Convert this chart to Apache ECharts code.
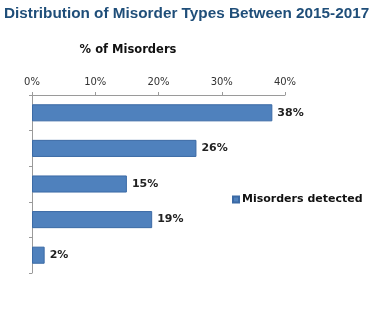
<!DOCTYPE html>
<html><head><meta charset="utf-8">
<script src="https://cdn.jsdelivr.net/npm/echarts@6/dist/echarts.min.js"></script>
<style>html,body{margin:0;padding:0;background:#fff}#c{width:375px;height:325px}</style>
</head><body><div id="c"></div>
<script>
const categories = ['Type A', 'Type B', 'Type C', 'Type D', 'Type E'];
const misordersDetected = [38, 26, 15, 19, 2];
const xTicks = [0, 10, 20, 30, 40];

const chart = echarts.init(document.getElementById('c'), null, {renderer: 'canvas'});
chart.setOption({
  animation: false,
  backgroundColor: '#ffffff',
  title: [{
    text: 'Distribution of Misorder Types Between 2015-2017',
    left: 4, top: 6, padding: 0,
    textStyle: {fontFamily: 'Liberation Sans', fontWeight: 'bold', fontSize: 15.3, color: '#1f4e79'}
  }, {
    text: '% of Misorders',
    left: 128, top: 44, padding: 0, textAlign: 'center',
    textStyle: {fontFamily: 'DejaVu Sans', fontWeight: 'bold', fontSize: 11.5, color: '#111'}
  }],
  legend: {
    data: ['Misorders detected'],
    left: 227, top: 189,
    icon: 'rect', itemWidth: 6, itemHeight: 6, itemGap: 3,
    textStyle: {fontFamily: 'DejaVu Sans', fontWeight: 'bold', fontSize: 11, color: '#111', padding: [0,0,0,-2]}
  },
  grid: {left: 32, top: 95, right: 90, bottom: 52, containLabel: false},
  xAxis: {
    type: 'value', position: 'top', min: xTicks[0], max: xTicks[xTicks.length-1], interval: 10,
    axisLine: {show: true, lineStyle: {color: '#9a9a9a'}},
    axisTick: {show: true, length: 3, lineStyle: {color: '#9a9a9a'}},
    splitLine: {show: false},
    axisLabel: {formatter: '{value}%', fontFamily: 'DejaVu Sans', fontSize: 10, color: '#333', margin: 8}
  },
  yAxis: {
    type: 'category', data: categories, inverse: true,
    axisLine: {show: true, lineStyle: {color: '#9a9a9a'}},
    axisTick: {show: true, length: 3, lineStyle: {color: '#9a9a9a'}},
    axisLabel: {show: false}
  },
  series: [{
    name: 'Misorders detected', type: 'bar', data: misordersDetected,
    barWidth: '48%',
    itemStyle: {color: '#4f81bd', borderColor: '#3b6aa5', borderWidth: 1},
    label: {show: true, position: 'right', formatter: '{c}%', distance: 5,
      fontFamily: 'DejaVu Sans', fontWeight: 'bold', fontSize: 11, color: '#222'}
  }]
});
</script></body></html>
